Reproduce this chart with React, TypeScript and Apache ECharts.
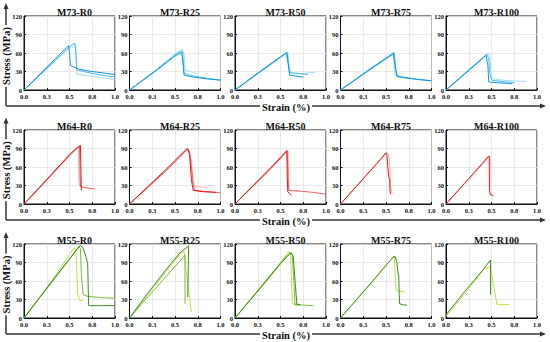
import React, { useEffect, useRef } from "react";
import * as echarts from "echarts";

type Pt = [number, number];

const xTickLabels = ["0.0", "0.3", "0.5", "0.8", "1.0"];
const yMin = 0, yMax = 120, yStep = 30;
const xMin = 0, xMax = 1, xStep = 0.25;

const rowNames = ["M73", "M64", "M55"];
const colNames = ["R0", "R25", "R50", "R75", "R100"];

const bluePalette = ["#1596d4", "#4fbbea", "#a3dbf4"];
const redPalette = ["#e4161b", "#f26466", "#f7abab"];
const greenPalette = ["#3d8c27", "#7cba38", "#c6de45"];
const palettes = [bluePalette, redPalette, greenPalette];

// ---- M73 row ----
const M73_R0: Pt[][] = [
  [[0, 0], [0.49, 72], [0.5, 60], [0.51, 40], [0.55, 37], [0.6, 34], [0.7, 31], [0.8, 29], [0.9, 27], [1.0, 25]],
  [[0, 0], [0.53, 74], [0.56, 75], [0.57, 60], [0.58, 33], [0.65, 30], [0.75, 27], [0.85, 24], [1.0, 21]],
  [[0, 0], [0.55, 76], [0.57, 74], [0.58, 26], [0.7, 23], [0.85, 20], [1.0, 17]],
];
const M73_R25: Pt[][] = [
  [[0, 0], [0.3, 32], [0.5, 55], [0.57, 61], [0.58, 55], [0.6, 24], [0.7, 21], [0.85, 18], [1.0, 16]],
  [[0, 0], [0.3, 33], [0.5, 57], [0.57, 64], [0.585, 60], [0.6, 27], [0.7, 23], [0.85, 19], [1.0, 16]],
  [[0, 0], [0.3, 34], [0.5, 58], [0.58, 66], [0.6, 58], [0.61, 33], [0.7, 28], [0.76, 25]],
];
const M73_R50: Pt[][] = [
  [[0, 0], [0.3, 33], [0.5, 54], [0.57, 61], [0.58, 50], [0.6, 24], [0.65, 23], [0.75, 21]],
  [[0, 0], [0.3, 32], [0.5, 53], [0.56, 60], [0.58, 45], [0.6, 28], [0.7, 27], [0.8, 25]],
  [[0, 0], [0.3, 31], [0.5, 52], [0.58, 62], [0.6, 35], [0.62, 27], [0.72, 26], [0.8, 28], [0.88, 28]],
];
const M73_R75: Pt[][] = [
  [[0, 0], [0.3, 31], [0.5, 51], [0.58, 59], [0.6, 40], [0.62, 22], [0.7, 20], [0.85, 17], [1.0, 15]],
  [[0, 0], [0.3, 32], [0.5, 52], [0.59, 61], [0.61, 30], [0.63, 22], [0.75, 19], [1.0, 15]],
  [[0, 0], [0.3, 30], [0.5, 50], [0.58, 58], [0.6, 24], [0.7, 21], [0.8, 19]],
];
const M73_R100: Pt[][] = [
  [[0, 0], [0.2, 25], [0.44, 56], [0.46, 40], [0.47, 13], [0.55, 12], [0.65, 11], [0.73, 10]],
  [[0, 0], [0.2, 26], [0.45, 58], [0.47, 50], [0.48, 28], [0.5, 16], [0.6, 14], [0.75, 12]],
  [[0, 0], [0.2, 27], [0.46, 60], [0.48, 55], [0.5, 20], [0.55, 17], [0.7, 15], [0.89, 14]],
];

// ---- M64 row ----
const M64_R0: Pt[][] = [
  [[0, 0], [0.1, 16], [0.2, 32], [0.3, 48], [0.4, 64], [0.5, 80], [0.55, 87], [0.6, 93], [0.62, 95], [0.625, 60], [0.63, 22]],
  [[0, 0], [0.1, 15], [0.2, 31], [0.3, 47], [0.4, 63], [0.5, 79], [0.56, 88], [0.61, 94], [0.615, 50], [0.62, 28], [0.65, 27], [0.7, 26], [0.78, 24]],
  [[0, 0], [0.1, 15], [0.2, 30], [0.3, 46], [0.4, 62], [0.5, 78], [0.55, 85], [0.6, 92], [0.605, 35], [0.61, 30], [0.64, 29]],
];
const M64_R25: Pt[][] = [
  [[0, 0], [0.2, 28], [0.4, 56], [0.55, 78], [0.62, 88], [0.64, 90], [0.66, 80], [0.68, 40], [0.7, 22], [0.8, 20], [0.95, 19]],
  [[0, 0], [0.2, 27], [0.4, 54], [0.55, 76], [0.63, 89], [0.66, 85], [0.68, 60], [0.7, 30], [0.72, 22], [0.85, 20], [1.0, 18]],
  [[0, 0], [0.2, 26], [0.4, 53], [0.55, 75], [0.62, 87], [0.65, 88], [0.68, 70], [0.7, 35], [0.72, 28], [0.85, 27]],
];
const M64_R50: Pt[][] = [
  [[0, 0], [0.2, 30], [0.4, 60], [0.5, 75], [0.56, 84], [0.57, 85], [0.575, 40], [0.58, 20], [0.6, 17], [0.62, 14]],
  [[0, 0], [0.2, 29], [0.4, 58], [0.5, 74], [0.56, 86], [0.58, 87], [0.585, 40], [0.59, 22], [0.7, 21], [0.85, 19], [0.99, 16]],
  [[0, 0], [0.2, 30], [0.4, 59], [0.5, 77], [0.55, 84], [0.57, 86], [0.58, 60], [0.59, 25], [0.6, 22], [0.7, 21]],
];
const M64_R75: Pt[][] = [
  [[0, 0], [0.2, 33], [0.4, 66], [0.5, 83], [0.51, 80], [0.52, 60], [0.53, 44], [0.54, 40], [0.545, 20], [0.55, 16]],
  [[0, 0], [0.2, 32], [0.4, 65], [0.5, 82], [0.52, 83], [0.54, 70], [0.55, 30], [0.56, 20], [0.57, 18]],
];
const M64_R100: Pt[][] = [
  [[0, 0], [0.2, 33], [0.4, 66], [0.47, 78], [0.48, 76], [0.48, 20], [0.49, 15], [0.52, 13]],
  [[0, 0], [0.2, 32], [0.4, 64], [0.46, 74], [0.47, 77], [0.475, 30], [0.48, 18], [0.5, 16]],
];

// ---- M55 row ----
const M55_R0: Pt[][] = [
  [[0, 0], [0.3, 58], [0.5, 96], [0.62, 118], [0.65, 113], [0.68, 100], [0.7, 88], [0.71, 20], [0.8, 20], [1.0, 20]],
  [[0, 0], [0.3, 57], [0.5, 95], [0.6, 116], [0.62, 113], [0.63, 70], [0.65, 38], [0.7, 35], [0.85, 33], [1.0, 32]],
  [[0, 0], [0.3, 59], [0.5, 103], [0.55, 114], [0.57, 110], [0.59, 40], [0.61, 29], [0.65, 28]],
];
const M55_R25: Pt[][] = [
  [[0, 0], [0.2, 40], [0.4, 78], [0.55, 105], [0.65, 117], [0.64, 34]],
  [[0, 0], [0.2, 34], [0.4, 67], [0.6, 100], [0.61, 102], [0.61, 23]],
  [[0, 0], [0.2, 38], [0.4, 75], [0.57, 106], [0.6, 108], [0.62, 80], [0.68, 10]],
];
const M55_R50: Pt[][] = [
  [[0, 0], [0.3, 52], [0.5, 88], [0.6, 104], [0.62, 105], [0.64, 100], [0.66, 60], [0.68, 22], [0.72, 22]],
  [[0, 0], [0.3, 53], [0.5, 89], [0.61, 107], [0.63, 102], [0.65, 50], [0.66, 21], [0.75, 21], [0.86, 20]],
  [[0, 0], [0.3, 54], [0.5, 90], [0.59, 108], [0.61, 104], [0.63, 23], [0.7, 22]],
];
const M55_R75: Pt[][] = [
  [[0, 0], [0.2, 34], [0.4, 68], [0.58, 99], [0.6, 100], [0.62, 90], [0.63, 75], [0.64, 68], [0.645, 40], [0.65, 23], [0.7, 21], [0.73, 21]],
  [[0, 0], [0.2, 33], [0.4, 67], [0.57, 98], [0.59, 100], [0.6, 70], [0.61, 45], [0.65, 43], [0.71, 42]],
];
const M55_R100: Pt[][] = [
  [[0, 5], [0.2, 42], [0.4, 77], [0.49, 94], [0.49, 38]],
  [[0, 3], [0.2, 38], [0.42, 80], [0.49, 83], [0.52, 55], [0.56, 22], [0.69, 22]],
];

const panels: Pt[][][][] = [
  [M73_R0, M73_R25, M73_R50, M73_R75, M73_R100],
  [M64_R0, M64_R25, M64_R50, M64_R75, M64_R100],
  [M55_R0, M55_R25, M55_R50, M55_R75, M55_R100],
];

const FONT = "Liberation Serif";

export default function App() {
  const ref = useRef<HTMLDivElement>(null);
  useEffect(() => {
    if (!ref.current) return;
    const chart = echarts.init(ref.current, null, { renderer: "svg" });

    const gLeft0 = 24, gTop0 = 16, colStep = 105.5, rowStep = 114, gW = 91, gH = 74;
    const grids: any[] = [];
    const xAxes: any[] = [];
    const yAxes: any[] = [];
    const series: any[] = [];
    const titles: any[] = [];
    let gi = 0;
    for (let r = 0; r < 3; r++) {
      for (let c = 0; c < 5; c++) {
        const left = gLeft0 + c * colStep;
        const top = gTop0 + r * rowStep;
        grids.push({
          left, top, width: gW, height: gH,
          show: true, borderColor: "#111", borderWidth: 1, backgroundColor: "#fff",
        });
        xAxes.push({
          type: "value", gridIndex: gi, min: xMin, max: xMax, interval: xStep,
          axisLine: { show: true, onZero: false, lineStyle: { color: "#111", width: 1 } },
          axisTick: { show: true, inside: true, length: 2, lineStyle: { color: "#111" } },
          splitLine: { show: true, lineStyle: { color: "#e4e4e4", width: 0.8 } },
          axisLabel: {
            fontSize: 6.5, fontWeight: "bold", fontFamily: FONT, color: "#111", margin: 3,
            formatter: (v: number) => xTickLabels[Math.round((v - xMin) / xStep)] ?? "",
          },
        });
        yAxes.push({
          type: "value", gridIndex: gi, min: yMin, max: yMax, interval: yStep,
          axisLine: { show: true, onZero: false, lineStyle: { color: "#111", width: 1 } },
          axisTick: { show: true, inside: true, length: 2, lineStyle: { color: "#111" } },
          splitLine: { show: true, lineStyle: { color: "#e4e4e4", width: 0.8 } },
          axisLabel: { fontSize: 6.5, fontWeight: "bold", fontFamily: FONT, color: "#111", margin: 2 },
        });
        titles.push({
          text: `${rowNames[r]}-${colNames[c]}`,
          left: left + gW / 2, top: top - 14, textAlign: "center",
          textStyle: { fontSize: 10, fontWeight: "bold", fontFamily: FONT, color: "#111" },
        });
        const curves = panels[r][c];
        const pal = palettes[r];
        for (let k = curves.length - 1; k >= 0; k--) {
          const colIdx = curves.length === 2 ? (k === 0 ? 0 : 2) : k;
          series.push({
            type: "line", xAxisIndex: gi, yAxisIndex: gi, data: curves[k],
            showSymbol: false, symbol: "none", smooth: false,
            lineStyle: { color: pal[colIdx], width: 1 }, z: 3 + (curves.length - k),
          });
        }
        gi++;
      }
    }

    const graphics: any[] = [];
    for (let r = 0; r < 3; r++) {
      const topY = 4 + r * 114.5;
      const baseY = 106 + r * 114;
      const lx = 6, rx = 544;
      const stroke = { stroke: "#333", lineWidth: 1.5 };
      graphics.push({ type: "line", shape: { x1: lx, y1: topY + 3, x2: lx, y2: baseY }, style: stroke, silent: true });
      graphics.push({ type: "polygon", shape: { points: [[lx, topY - 1], [lx - 2.5, topY + 5], [lx + 2.5, topY + 5]] }, style: { fill: "#333" }, silent: true });
      graphics.push({ type: "line", shape: { x1: lx, y1: baseY, x2: rx - 3, y2: baseY }, style: stroke, silent: true });
      graphics.push({ type: "polygon", shape: { points: [[rx + 2, baseY], [rx - 4, baseY - 2.5], [rx - 4, baseY + 2.5]] }, style: { fill: "#333" }, silent: true });
      graphics.push({
        type: "text", x: 286, y: baseY + 1.5, silent: true,
        style: {
          text: "Strain (%)", fontSize: 10.5, fontWeight: "bold", fontFamily: FONT, fill: "#111",
          align: "center", verticalAlign: "middle", backgroundColor: "#fff", padding: [0, 2],
        },
      });
      graphics.push({
        type: "text", x: lx, y: (topY + baseY) / 2 + 1, rotation: Math.PI / 2, silent: true,
        style: {
          text: "Stress (MPa)", fontSize: 10.5, fontWeight: "bold", fontFamily: FONT, fill: "#111",
          align: "center", verticalAlign: "middle", backgroundColor: "#fff", padding: [0, 2],
        },
      });
    }

    chart.setOption({
      animation: false,
      backgroundColor: "#fff",
      title: titles,
      grid: grids,
      xAxis: xAxes,
      yAxis: yAxes,
      series,
      graphic: graphics,
    });
    return () => chart.dispose();
  }, []);

  return (
    <div style={{ position: "fixed", left: 0, top: 0, width: 550, height: 342, background: "#fff" }}>
      <div ref={ref} style={{ width: 550, height: 342 }} />
    </div>
  );
}
